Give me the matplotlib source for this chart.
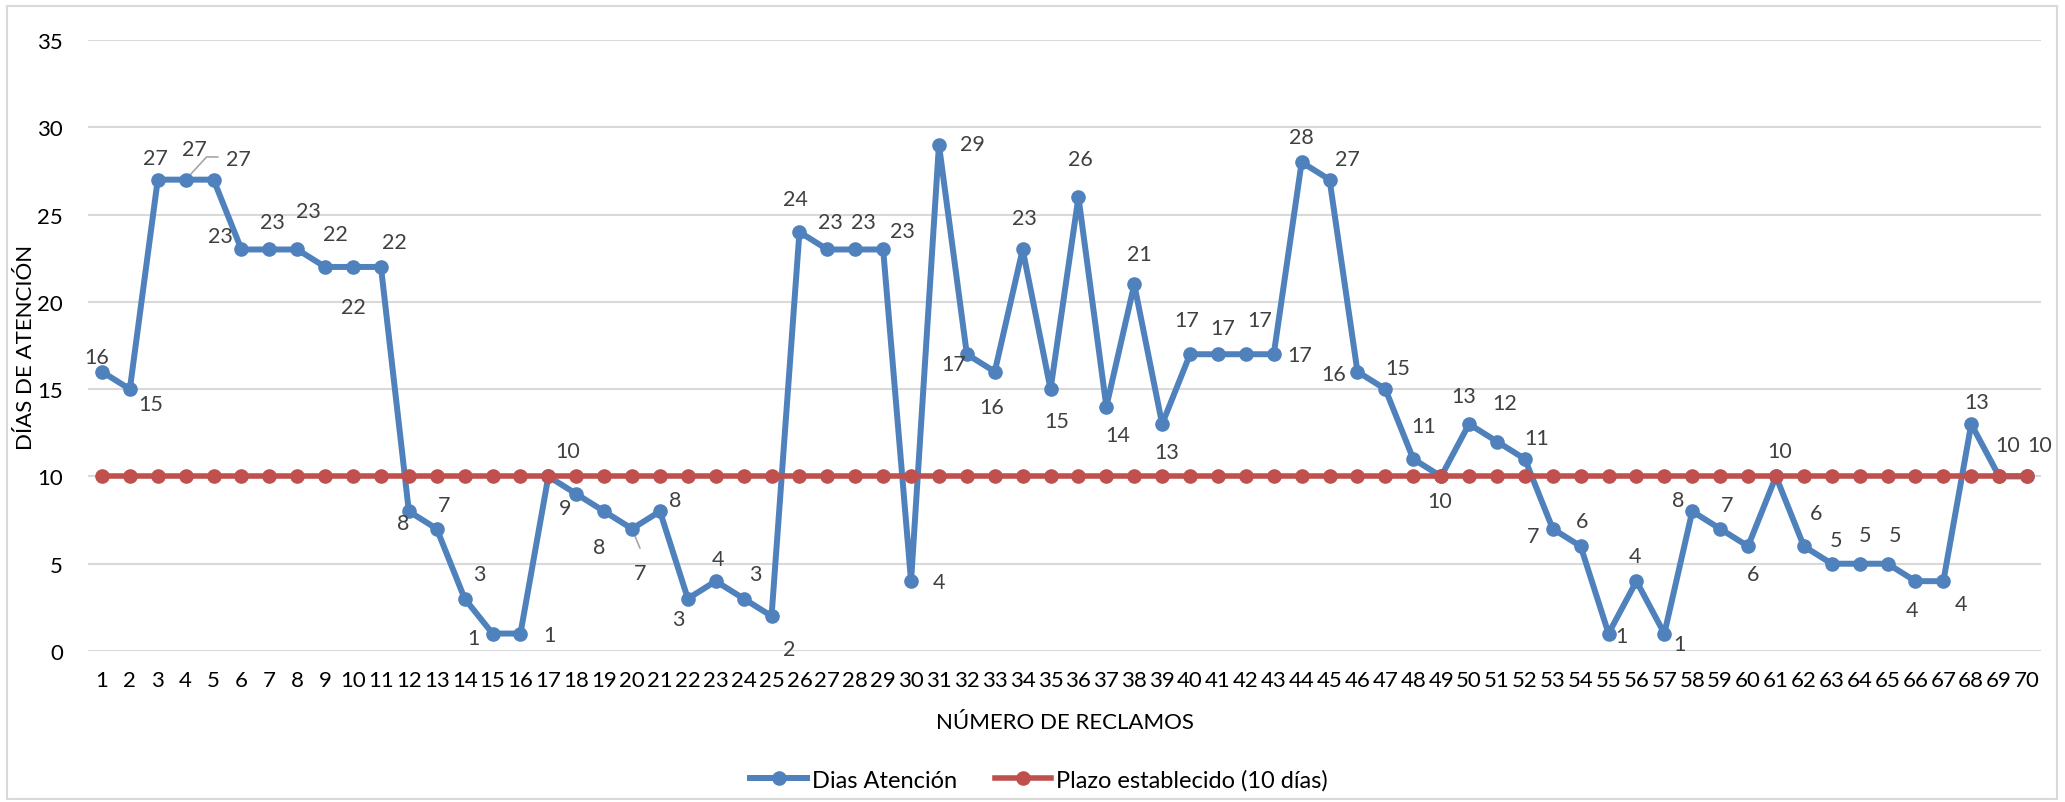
import matplotlib
matplotlib.use('Agg')
import matplotlib.pyplot as plt
from matplotlib.patches import Rectangle
from matplotlib.lines import Line2D

plt.rcParams['font.family'] = ['Lato', 'DejaVu Sans']

# reclamos 1..70 y dias de atencion de cada uno
reclamos = list(range(1, 71))
dias_atencion = [16, 15, 27, 27, 27, 23, 23, 23, 22, 22,
                 22, 8, 7, 3, 1, 1, 10, 9, 8, 7,
                 8, 3, 4, 3, 2, 24, 23, 23, 23, 4,
                 29, 17, 16, 23, 15, 26, 14, 21, 13, 17,
                 17, 17, 17, 28, 27, 16, 15, 11, 10, 13,
                 12, 11, 7, 6, 1, 4, 1, 8, 7, 6,
                 10, 6, 5, 5, 5, 4, 4, 13, 10, 10]
plazo = [10] * 70

# desplazamiento (px) de cada etiqueta respecto a su punto
desp = [(-5, 15), (21, -15), (-2, 22), (9, 31), (25, 21),
        (-21, 13), (3, 27), (11, 38), (10, 33), (0, -40),
        (13, 25), (-6, -12), (7, 24), (15, 25), (-19, -4),
        (29, -1), (19, 25), (-11, -14), (-5, -36), (8, -44),
        (15, 11), (-9, -20), (2, 22), (12, 25), (18, -33),
        (-4, 33), (3, 27), (8, 27), (19, 18), (28, -1),
        (33, 1), (-13, -10), (-3, -35), (2, 31), (6, -32),
        (2, 38), (11, -28), (5, 30), (5, -28), (-3, 34),
        (5, 26), (14, 34), (26, -1), (0, 25), (18, 21),
        (-24, -2), (12, 21), (10, 33), (-1, -25), (-5, 28),
        (8, 39), (12, 21), (-20, -7), (1, 25), (13, -2),
        (-1, 25), (15, -10), (-14, 11), (7, 24), (5, -28),
        (4, 25), (12, 33), (4, 24), (5, 29), (7, 29),
        (-3, -29), (18, -23), (5, 22), (9, 31), (13, 31)]

azul = '#4F81BD'
rojo = '#C0504D'
gris_txt = '#404040'
fs_tick = 16
fs_lab = 15.5

fig = plt.figure(figsize=(20.65, 8.03), dpi=100)
ax = fig.add_axes([88 / 2065, 1 - 652 / 803, (2041 - 88) / 2065, (652 - 41) / 803])

ax.plot(reclamos, dias_atencion, color=azul, lw=4.3, marker='o', ms=9.5, zorder=3)
ax.plot(reclamos, plazo, color=rojo, lw=4.0, marker='o', ms=9.5, zorder=4)

for x, y, (dx, dy) in zip(reclamos, dias_atencion, desp):
    ax.annotate(str(y), (x, y), xytext=(dx, dy), textcoords='offset pixels',
                ha='center', va='center', fontsize=fs_lab, color=gris_txt, zorder=5)

# lineas guia de dos etiquetas
ax.plot([4, 4.75, 5.15], [27, 28.3, 28.3], color='#A6A6A6', lw=1.2, zorder=2)
ax.plot([20, 20.28], [7, 5.9], color='#A6A6A6', lw=1.2, zorder=2)

ax.set_xlim(0.5, 70.5)
ax.set_ylim(0, 35)
ax.set_yticks(range(0, 36, 5))
ax.set_xticks(reclamos)
ax.tick_params(axis='both', length=0, labelsize=fs_tick, colors='#000000')
ax.tick_params(axis='x', pad=14)
ax.tick_params(axis='y', pad=18)
ax.grid(axis='y', color='#D9D9D9', lw=1.5)
ax.set_axisbelow(True)
for sp in ax.spines.values():
    sp.set_visible(False)

fig.text(26 / 2065, 1 - 347 / 803, 'DÍAS DE ATENCIÓN', rotation=90,
         ha='center', va='center', fontsize=fs_tick, color='#000000')
fig.text(0.5 * (88 + 2041) / 2065, 1 - 723 / 803, 'NÚMERO DE RECLAMOS',
         ha='center', va='center', fontsize=fs_tick, color='#000000')

handles = [Line2D([], [], color=azul, lw=4.3, marker='o', ms=9.5),
           Line2D([], [], color=rojo, lw=4.0, marker='o', ms=9.5)]
fig.legend(handles, ['Dias Atención', 'Plazo establecido (10 días)'],
           loc='center', bbox_to_anchor=(1039 / 2065, 1 - 781 / 803), ncol=2,
           frameon=False, fontsize=17, handlelength=2.4, columnspacing=1.6,
           handletextpad=0.2)

fig.patches.append(Rectangle((7 / 2065, 3 / 803), (2057 - 7) / 2065, (796 - 3) / 803,
                             transform=fig.transFigure, fill=False,
                             edgecolor='#D9D9D9', lw=1.5))

fig.savefig('out.png', dpi=100)
